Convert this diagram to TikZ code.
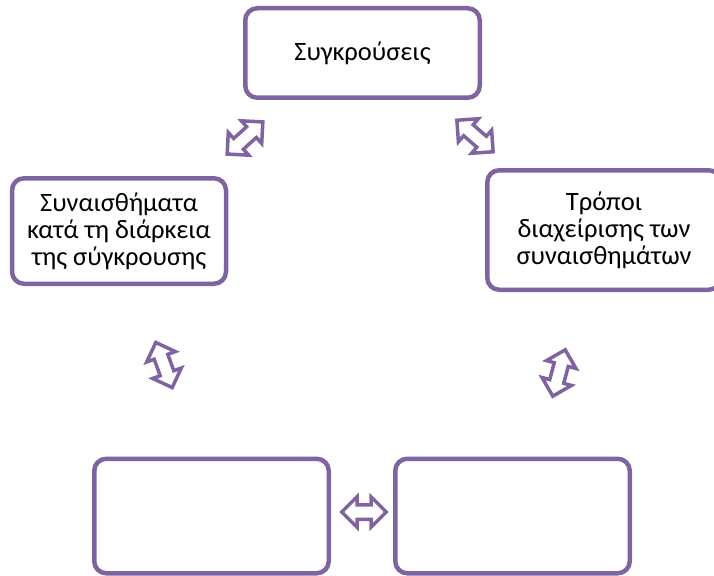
\documentclass[tikz,border=0pt]{standalone}
\usepackage{fontspec}
\setmainfont{Carlito}
\usetikzlibrary{shapes.arrows}
\usetikzlibrary{positioning}
\definecolor{lilac}{HTML}{8064A2}

\begin{document}
\begin{tikzpicture}[x=1pt,y=-1pt,font=\fontsize{26.5}{27}\selectfont,
                      box/.style={draw=lilac,line width=4.5pt,rounded corners=12pt,fill=white,align=center,inner sep=0pt},
                      wbox/.style={box,minimum width=234.5pt},
                      dblarrow/.style={double arrow,draw=lilac,line width=3.5pt,fill=white,inner sep=0pt,
                                       inner ysep=5.5pt,double arrow head extend=8pt,minimum height=48pt},
                      ]
    \useasboundingbox (0,0) rectangle (714,575);
    \node[wbox,minimum height=89.5pt] (conflicts) at (362.5,53) {Συγκρούσεις};
    \node[box,minimum width=214pt,minimum height=105.5pt] (feelings) at (119,231) {Συναισθήματα\\κατά τη διάρκεια\\της σύγκρουσης};
    \node[wbox,minimum width=233.5pt,minimum height=119.5pt] (coping) at (604,230) {Τρόποι\\διαχείρισης των\\συναισθημάτων};
    \node[wbox,minimum height=114.5pt] (emptyleft) at (211.5,516) {};
    \node[wbox,minimum height=114.5pt] (emptyright) at (512.5,516) {};

    \node[dblarrow,rotate=42] (arrtl) at (245,138) {};
    \node[dblarrow,rotate=-41] (arrtr) at (475,136) {};
    \node[dblarrow,rotate=110] (arrl) at (164,365) {};
    \node[dblarrow,rotate=75] (arrr) at (559,373) {};
    \node[dblarrow,minimum height=44.5pt] (arrb) at (364,512) {};
  \end{tikzpicture}
\end{document}
